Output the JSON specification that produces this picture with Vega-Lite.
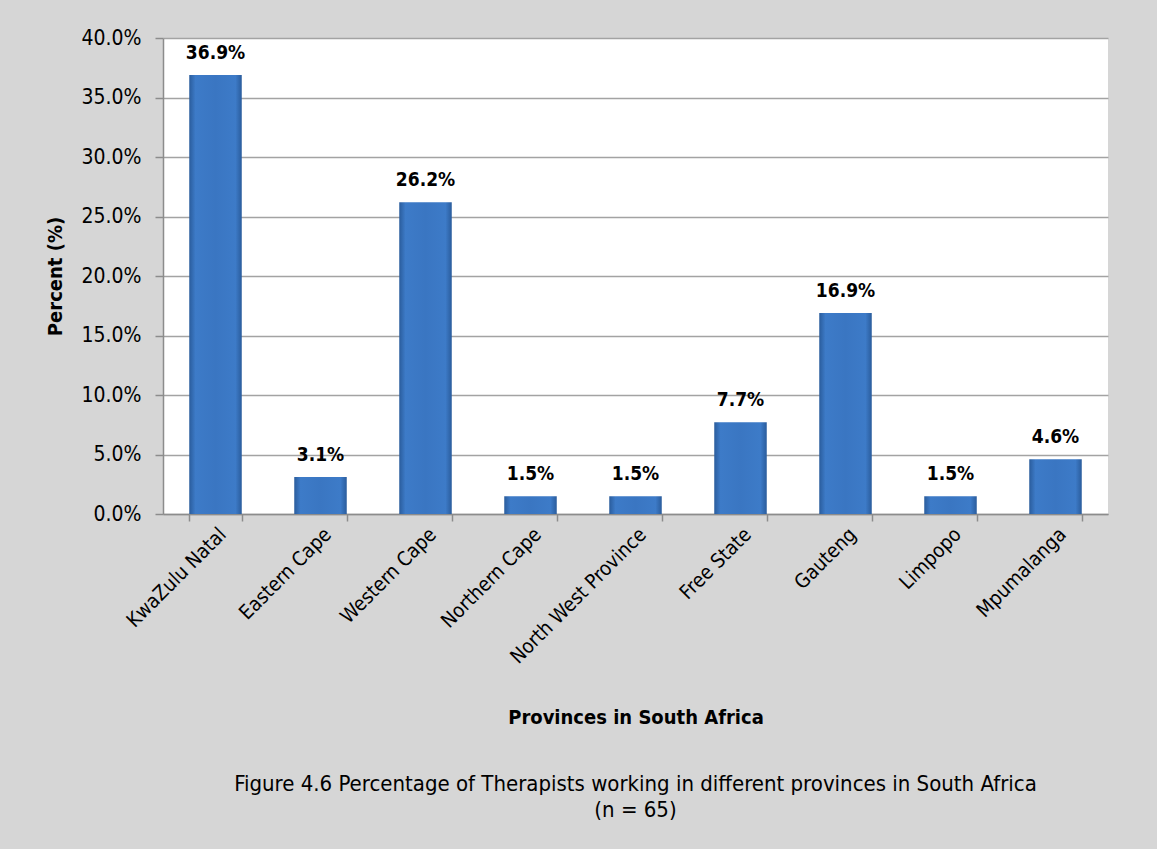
{
  "$schema": "https://vega.github.io/schema/vega-lite/v6.json",
  "autosize": {"type": "none"},
  "width": 945,
  "height": 476,
  "padding": {"left": 163, "top": 38, "right": 49, "bottom": 335},
  "background": "#d6d6d6",
  "config": {
    "font": "DejaVu Sans Condensed, sans-serif",
    "view": {"stroke": null, "fill": "white"},
    "axis": {"labelColor": "#000", "titleColor": "#000", "domainColor": "#8c8c8c", "tickColor": "#8c8c8c", "domainWidth": 1.5, "tickWidth": 1.5}
  },
  "title": {
    "text": ["Figure 4.6 Percentage of Therapists working in different provinces in South Africa", "(n = 65)"],
    "orient": "bottom",
    "anchor": "middle",
    "fontSize": 22,
    "fontWeight": "normal",
    "color": "#000",
    "lineHeight": 26,
    "offset": 47
  },
  "data": {
    "values": [
      {"province": "KwaZulu Natal", "pct": 0.369},
      {"province": "Eastern Cape", "pct": 0.031},
      {"province": "Western Cape", "pct": 0.262},
      {"province": "Northern Cape", "pct": 0.015},
      {"province": "North West Province", "pct": 0.015},
      {"province": "Free State", "pct": 0.077},
      {"province": "Gauteng", "pct": 0.169},
      {"province": "Limpopo", "pct": 0.015},
      {"province": "Mpumalanga", "pct": 0.046}
    ]
  },
  "encoding": {
    "x": {
      "field": "province", "type": "nominal", "sort": null,
      "scale": {"paddingInner": 0.5, "paddingOuter": 0.25},
      "axis": {
        "title": "Provinces in South Africa",
        "titleFontSize": 20, "titleFontWeight": "bold",
        "titleY": 203, "titleBaseline": "middle",
        "labelAngle": -45, "labelFontSize": 20, "labelPadding": 3, "labelLimit": 0,
        "tickBand": "extent", "tickSize": 7, "grid": false
      }
    },
    "y": {
      "field": "pct", "type": "quantitative",
      "scale": {"domain": [0, 0.4], "nice": false},
      "axis": {
        "title": "Percent (%)", "format": ".1%",
        "values": [0, 0.05, 0.1, 0.15, 0.2, 0.25, 0.3, 0.35, 0.4],
        "titleFontSize": 20, "titleFontWeight": "bold",
        "titleX": -108, "titleY": 238, "titleAngle": -90, "titleAlign": "center", "titleBaseline": "middle",
        "labelFontSize": 21, "labelPadding": 14, "tickSize": 8,
        "grid": true, "gridColor": "#a3a3a3", "gridWidth": 1.5
      }
    }
  },
  "layer": [
    {
      "mark": {
        "type": "bar",
        "color": {
          "gradient": "linear", "x1": 0, "x2": 1, "y1": 0, "y2": 0,
          "stops": [
            {"offset": 0, "color": "#2a5c9c"},
            {"offset": 0.12, "color": "#3d7bc8"},
            {"offset": 0.5, "color": "#3a76c2"},
            {"offset": 0.88, "color": "#3d7bc8"},
            {"offset": 1, "color": "#2a5c9c"}
          ]
        }
      }
    },
    {
      "mark": {"type": "text", "baseline": "alphabetic", "dy": -16, "fontSize": 19, "fontWeight": "bold", "color": "#000"},
      "encoding": {"text": {"field": "pct", "type": "quantitative", "format": ".1%"}}
    }
  ]
}
